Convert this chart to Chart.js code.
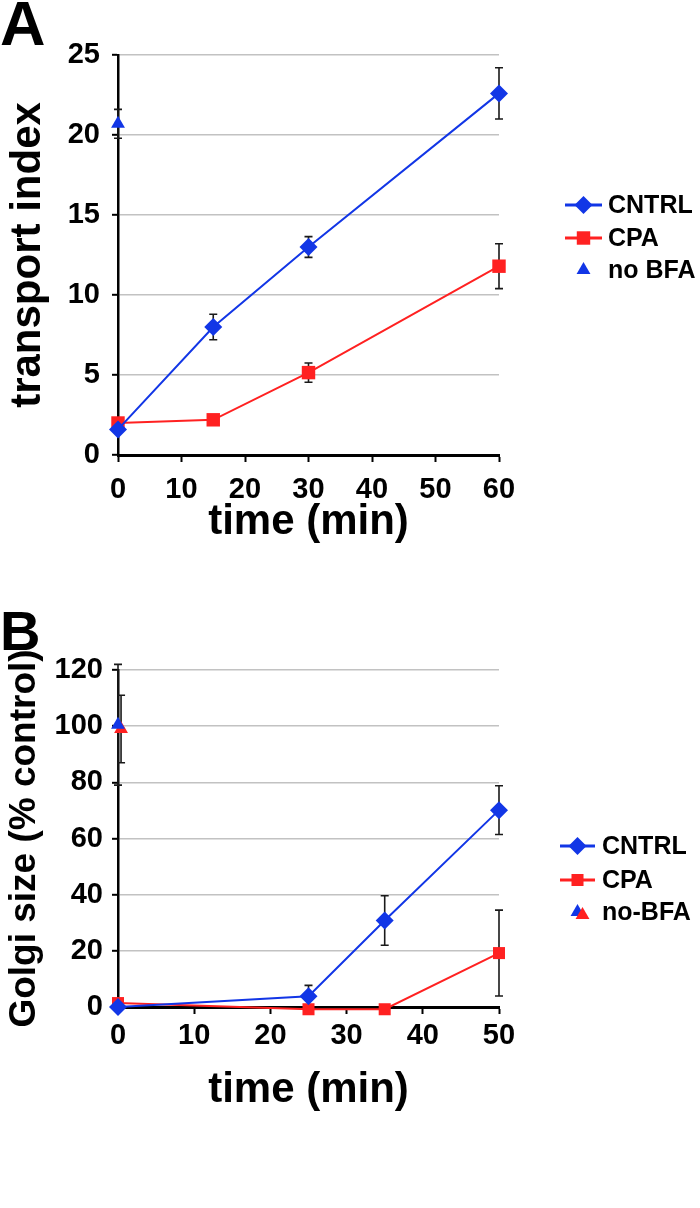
<!DOCTYPE html>
<html lang="en">
<head>
  <meta charset="UTF-8" />
  <title>Transport index and Golgi size</title>
  <script src="https://cdn.jsdelivr.net/npm/chart.js"></script>
  <style>
    body {
      margin: 0;
      background: #fff;
      font-family: 'Liberation Sans', Arial, sans-serif;
    }
    .page { position: relative; width: 700px; height: 1208px; }
    .panel { position: absolute; left: 0; width: 700px; }
    #panelA { top: 0; height: 580px; }
    #panelB { top: 580px; height: 628px; }
    .letter {
      position: absolute;
      left: 0;
      font-weight: bold;
      line-height: 1;
      color: #000;
    }
    #letterA { top: -8px; font-size: 63px; }
    #letterB { top: 23px; font-size: 56px; }
  </style>
</head>
<body>
<div class="page">
  <div class="panel" id="panelA">
    <canvas id="chartA" width="700" height="580"></canvas>
    <div class="letter" id="letterA">A</div>
  </div>
  <div class="panel" id="panelB">
    <canvas id="chartB" width="700" height="628"></canvas>
    <div class="letter" id="letterB">B</div>
  </div>
</div>

<script>
  // panel A - transport index
  const timeA = [0, 15, 30, 60];
  const cntrlA = [1.6, 8.0, 13.0, 22.6];
  const cntrlErrA = [0, 0.8, 0.65, 1.6];
  const cpaA = [2.0, 2.2, 5.15, 11.8];
  const cpaErrA = [0, 0, 0.6, 1.4];
  const noBfaTimeA = [0];
  const noBfaA = [20.7];
  const noBfaErrA = [0.9];
  const yTicksA = { min: 0, max: 25, step: 5 };
  const xTicksA = { min: 0, max: 60, step: 10 };

  // panel B - Golgi size
  const timeB = [0, 25, 35, 50];
  const cntrlB = [0, 3.8, 30.8, 70.1];
  const cntrlErrB = [0, 3.9, 8.8, 8.7];
  const cpaB = [1.4, -0.8, -0.8, 19.2];
  const cpaErrB = [0, 0, 0, 15.3];
  const noBfaBlueTimeB = [0];
  const noBfaBlueB = [100.5];
  const noBfaBlueErrB = [21.5];
  const noBfaRedTimeB = [0.4];
  const noBfaRedB = [99];
  const noBfaRedErrB = [12];
  const yTicksB = { min: 0, max: 120, step: 20 };
  const xTicksB = { min: 0, max: 50, step: 10 };

  const BLUE = '#1236e6';
  const RED = '#ff2121';
  const FONT = "'Liberation Sans', Arial, sans-serif";

  Chart.defaults.font.family = FONT;
  Chart.defaults.font.weight = 'bold';
  Chart.defaults.color = '#000';

  function pts(xs, ys) {
    return xs.map((x, i) => ({ x: x, y: ys[i] }));
  }

  // vertical error bars, drawn under the markers
  const errorBars = {
    id: 'errorBars',
    beforeDatasetsDraw(chart) {
      const ctx = chart.ctx;
      const xs = chart.scales.x, ys = chart.scales.y;
      ctx.save();
      ctx.strokeStyle = '#1a1a1a';
      ctx.lineWidth = 1.6;
      chart.data.datasets.forEach(ds => {
        if (!ds.errors) return;
        ds.data.forEach((p, i) => {
          const e = ds.errors[i];
          if (!e) return;
          const x = xs.getPixelForValue(p.x);
          const top = ys.getPixelForValue(p.y + e);
          const bot = ys.getPixelForValue(p.y - e);
          ctx.beginPath();
          ctx.moveTo(x, top); ctx.lineTo(x, bot);
          ctx.moveTo(x - 4, top); ctx.lineTo(x + 4, top);
          ctx.moveTo(x - 4, bot); ctx.lineTo(x + 4, bot);
          ctx.stroke();
        });
      });
      ctx.restore();
    }
  };

  // legend on the right: line + marker, then label
  const sideLegend = {
    id: 'sideLegend',
    afterDraw(chart, args, opts) {
      const ctx = chart.ctx;
      const sets = chart.data.datasets;
      ctx.save();
      opts.items.forEach((item, r) => {
        const y = opts.rows[r];
        const cx = opts.x + opts.len / 2;
        if (item.line) {
          const ds = sets[item.sets[0]];
          ctx.strokeStyle = ds.borderColor;
          ctx.lineWidth = 3;
          ctx.beginPath();
          ctx.moveTo(opts.x, y);
          ctx.lineTo(opts.x + opts.len, y);
          ctx.stroke();
        }
        item.sets.forEach((k, j) => {
          const ds = sets[k];
          ctx.fillStyle = ds.pointBackgroundColor;
          ctx.strokeStyle = ds.pointBackgroundColor;
          Chart.helpers.drawPoint(ctx, {
            pointStyle: ds.pointStyle, radius: ds.pointRadius, rotation: 0, borderWidth: 0
          }, cx + j * 5, y + j * 3);
        });
        ctx.fillStyle = '#000';
        ctx.font = 'bold ' + opts.fontSize + 'px ' + FONT;
        ctx.textBaseline = 'middle';
        ctx.textAlign = 'left';
        ctx.fillText(sets[item.sets[0]].label, opts.textX, y + 1);
      });
      ctx.restore();
    }
  };

  function lineSet(label, data, errors, color, style, radius, order) {
    return {
      label: label,
      data: data,
      errors: errors,
      borderColor: color,
      backgroundColor: color,
      pointBackgroundColor: color,
      pointBorderColor: color,
      pointBorderWidth: 0,
      pointStyle: style,
      pointRadius: radius,
      borderWidth: 2,
      showLine: true,
      tension: 0,
      clip: false,
      order: order
    };
  }

  function scales(xt, yt, yTitle, yTitleSize, layout) {
    return {
      x: {
        type: 'linear',
        min: xt.min, max: xt.max,
        ticks: { stepSize: xt.step, font: { size: 29, weight: 'bold' }, color: '#000', padding: layout.xTickPad },
        grid: { drawOnChartArea: false, tickColor: '#000', tickLength: 7, tickWidth: 2 },
        border: { color: '#000', width: 3 },
        title: { display: true, text: 'time (min)', font: { size: 42, weight: 'bold' }, color: '#000', padding: 0 },
        afterFit: s => { s.height = layout.xHeight; }
      },
      y: {
        min: yt.min, max: yt.max,
        ticks: { stepSize: yt.step, font: { size: 29, weight: 'bold' }, color: '#000', padding: layout.yTickPad },
        grid: { color: '#c2c2c2', lineWidth: 1.6, tickColor: '#000', tickLength: 6, tickWidth: 2 },
        border: { color: '#000', width: 2.5 },
        title: { display: true, text: yTitle, font: { size: yTitleSize, weight: 'bold' }, color: '#000', padding: { top: 3, bottom: 0 } },
        afterFit: s => { s.width = 118; }
      }
    };
  }

  new Chart(document.getElementById('chartA'), {
    type: 'scatter',
    data: {
      datasets: [
        lineSet('CNTRL', pts(timeA, cntrlA), cntrlErrA, BLUE, 'rectRot', 9, 1),
        lineSet('CPA', pts(timeA, cpaA), cpaErrA, RED, 'rect', 9.5, 2),
        Object.assign(lineSet('no BFA', pts(noBfaTimeA, noBfaA), noBfaErrA, BLUE, 'triangle', 8, 0), { showLine: false })
      ]
    },
    options: {
      responsive: false,
      animation: false,
      events: [],
      layout: { padding: { left: 0, right: 201, top: 55, bottom: 32 } },
      scales: scales(xTicksA, yTicksA, 'transport index', 42, { xTickPad: 11, yTickPad: 12, xHeight: 93 }),
      plugins: {
        legend: { display: false },
        tooltip: { enabled: false },
        sideLegend: {
          x: 565, len: 37, textX: 608, fontSize: 25,
          rows: [205, 238, 270],
          items: [{ sets: [0], line: true }, { sets: [1], line: true }, { sets: [2], line: false }]
        }
      }
    },
    plugins: [errorBars, sideLegend]
  });

  new Chart(document.getElementById('chartB'), {
    type: 'scatter',
    data: {
      datasets: [
        lineSet('CNTRL', pts(timeB, cntrlB), cntrlErrB, BLUE, 'rectRot', 9, 2),
        lineSet('CPA', pts(timeB, cpaB), cpaErrB, RED, 'rect', 8.5, 3),
        Object.assign(lineSet('no-BFA', pts(noBfaBlueTimeB, noBfaBlueB), noBfaBlueErrB, BLUE, 'triangle', 8, 0), { showLine: false }),
        Object.assign(lineSet('no-BFA', pts(noBfaRedTimeB, noBfaRedB), noBfaRedErrB, RED, 'triangle', 8, 1), { showLine: false })
      ]
    },
    options: {
      responsive: false,
      animation: false,
      events: [],
      layout: { padding: { left: 0, right: 201, top: 90, bottom: 92 } },
      scales: scales(xTicksB, yTicksB, 'Golgi size (% control)', 37, { xTickPad: 5, yTickPad: 9, xHeight: 109 }),
      plugins: {
        legend: { display: false },
        tooltip: { enabled: false },
        sideLegend: {
          x: 560, len: 35, textX: 602, fontSize: 25,
          rows: [266, 300, 332],
          items: [{ sets: [0], line: true }, { sets: [1], line: true }, { sets: [2, 3], line: false }]
        }
      }
    },
    plugins: [errorBars, sideLegend]
  });
</script>
</body>
</html>
